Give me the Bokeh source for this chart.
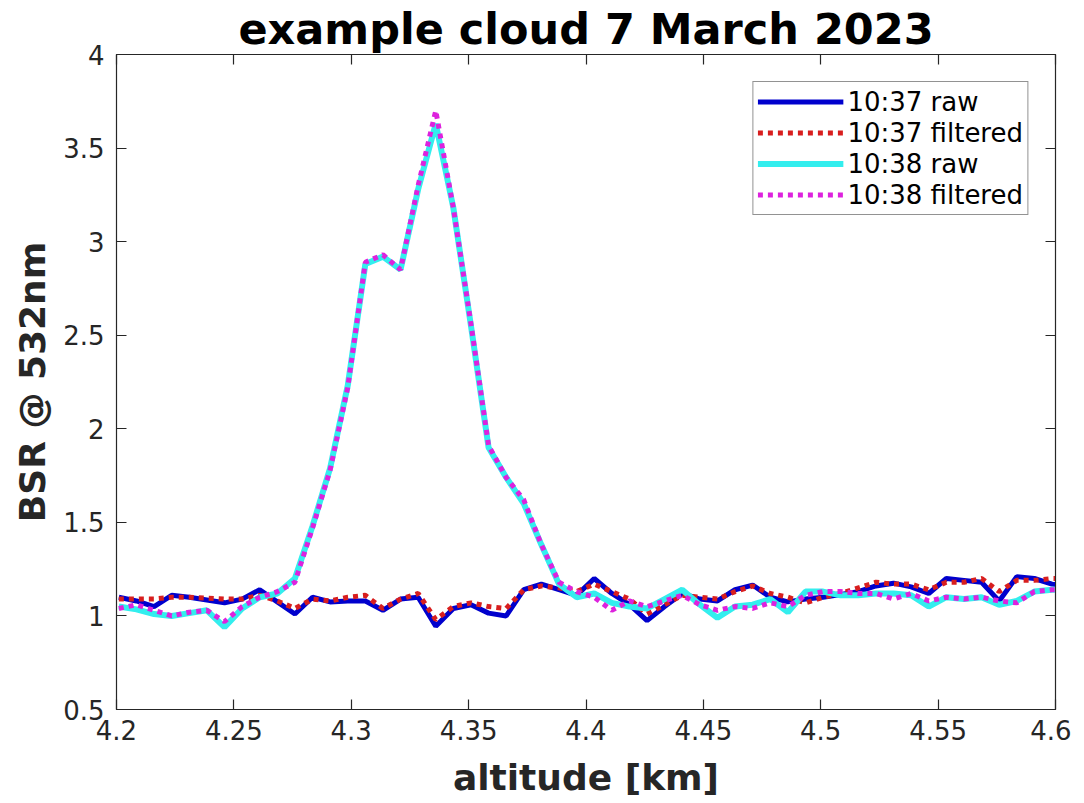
from bokeh.plotting import figure
from bokeh.models import Range1d, FixedTicker, LinearAxis, Legend, LegendItem
from bokeh.embed import file_html
from bokeh.resources import INLINE

# ---- data -------------------------------------------------------------
alt_start = 4.201
alt_step = 0.0075
n_points = 55
altitude = [round(alt_start + alt_step * i, 5) for i in range(n_points)]

raw_1037 = [1.10, 1.08, 1.05, 1.11, 1.10, 1.085, 1.07, 1.09, 1.14, 1.075,
            1.01, 1.10, 1.075, 1.08, 1.08, 1.03, 1.09, 1.10, 0.945, 1.04,
            1.06, 1.015, 1.00, 1.14, 1.17, 1.14, 1.11, 1.20, 1.12, 1.06,
            0.975, 1.05, 1.12, 1.09, 1.08, 1.14, 1.165, 1.10, 1.075, 1.09,
            1.10, 1.115, 1.13, 1.16, 1.175, 1.155, 1.12, 1.20, 1.19, 1.18,
            1.08, 1.21, 1.20, 1.17, 1.16]

filt_1037 = [1.09, 1.09, 1.09, 1.10, 1.10, 1.095, 1.09, 1.09, 1.11, 1.08,
             1.04, 1.09, 1.08, 1.10, 1.11, 1.04, 1.09, 1.12, 0.98, 1.05,
             1.07, 1.05, 1.04, 1.14, 1.16, 1.15, 1.13, 1.17, 1.13, 1.09,
             1.01, 1.06, 1.11, 1.10, 1.09, 1.13, 1.16, 1.12, 1.10, 1.07,
             1.10, 1.12, 1.15, 1.18, 1.17, 1.17, 1.14, 1.18, 1.18, 1.20,
             1.13, 1.19, 1.19, 1.20, 1.20]

raw_1038 = [1.05, 1.035, 1.01, 1.00, 1.015, 1.03, 0.94, 1.04, 1.10, 1.12,
            1.20, 1.48, 1.79, 2.23, 2.88, 2.92, 2.85, 3.28, 3.63, 3.18,
            2.55, 1.90, 1.74, 1.60, 1.38, 1.17, 1.10, 1.12, 1.07, 1.05,
            1.04, 1.09, 1.14, 1.06, 0.99, 1.05, 1.06, 1.09, 1.02, 1.13,
            1.13, 1.11, 1.11, 1.12, 1.12, 1.11, 1.05, 1.10, 1.09, 1.10,
            1.06, 1.08, 1.13, 1.14, 1.14]

filt_1038 = [1.04, 1.06, 1.03, 1.00, 1.02, 1.03, 0.97, 1.05, 1.10, 1.13,
             1.18, 1.47, 1.78, 2.22, 2.89, 2.93, 2.85, 3.30, 3.70, 3.18,
             2.56, 1.91, 1.74, 1.62, 1.38, 1.18, 1.13, 1.10, 1.03, 1.08,
             1.05, 1.08, 1.11, 1.06, 1.03, 1.05, 1.04, 1.07, 1.05, 1.11,
             1.13, 1.13, 1.12, 1.12, 1.09, 1.12, 1.08, 1.10, 1.09, 1.10,
             1.08, 1.07, 1.13, 1.14, 1.14]

series_labels = ["10:37 raw", "10:37 filtered", "10:38 raw", "10:38 filtered"]

x_ticks = [4.2, 4.25, 4.3, 4.35, 4.4, 4.45, 4.5, 4.55, 4.6]
x_tick_labels = ["4.2", "4.25", "4.3", "4.35", "4.4", "4.45", "4.5", "4.55", "4.6"]
y_ticks = [0.5, 1.0, 1.5, 2.0, 2.5, 3.0, 3.5, 4.0]
y_tick_labels = ["0.5", "1", "1.5", "2", "2.5", "3", "3.5", "4"]

title_text = "example cloud 7 March 2023"
x_label = "altitude [km]"
y_label = "BSR @ 532nm"

# ---- figure -----------------------------------------------------------
FONT = "DejaVu Sans"
TXT = "#262626"

p = figure(frame_width=939, frame_height=655,
           x_range=Range1d(4.2, 4.6), y_range=Range1d(0.5, 4.0),
           output_backend="svg", toolbar_location=None,
           min_border_left=116, min_border_top=49, min_border_right=16,
           min_border_bottom=10, background_fill_color="white",
           border_fill_color="white")

p.title.text = title_text
p.title.align = "center"
p.title.text_font = FONT
p.title.text_font_size = "43px"
p.title.text_font_style = "bold"
p.title.text_color = "black"
p.title.offset = 0
p.title.standoff = 2

p.grid.visible = False
p.outline_line_color = TXT
p.outline_line_width = 1.2

def style_axis(ax, show_labels=True):
    ax.major_tick_in = 10
    ax.major_tick_out = 0
    ax.minor_tick_line_color = None
    ax.axis_line_color = TXT
    ax.major_tick_line_color = TXT
    ax.major_tick_line_width = 1.2
    ax.major_label_text_font = FONT
    if show_labels:
        ax.major_label_text_font_size = "26px"
        ax.major_label_text_color = TXT
    else:
        ax.major_label_text_font_size = "1px"
        ax.major_label_text_color = None
        ax.major_label_standoff = 0

p.xaxis.ticker = FixedTicker(ticks=x_ticks)
p.yaxis.ticker = FixedTicker(ticks=y_ticks)
p.xaxis.major_label_overrides = dict(zip(x_ticks, x_tick_labels))
p.yaxis.major_label_overrides = dict(zip(y_ticks, y_tick_labels))
style_axis(p.xaxis[0])
style_axis(p.yaxis[0])
p.xaxis.major_label_standoff = 10
p.yaxis.major_label_standoff = 12

p.xaxis.axis_label = x_label
p.yaxis.axis_label = y_label
for ax in (p.xaxis[0], p.yaxis[0]):
    ax.axis_label_text_font = FONT
    ax.axis_label_text_font_size = "36px"
    ax.axis_label_text_font_style = "bold"
    ax.axis_label_text_color = TXT
p.xaxis.axis_label_standoff = 14
p.yaxis.axis_label_standoff = 7

top_ax = LinearAxis(ticker=FixedTicker(ticks=x_ticks))
style_axis(top_ax, show_labels=False)
right_ax = LinearAxis(ticker=FixedTicker(ticks=y_ticks))
style_axis(right_ax, show_labels=False)
p.add_layout(top_ax, "above")
p.add_layout(right_ax, "right")

# ---- lines ------------------------------------------------------------
r1 = p.line(altitude, raw_1037, line_color="#0000cd", line_width=5)
r2 = p.line(altitude, filt_1037, line_color="#d81e1e", line_width=5, line_dash="5 5")
r3 = p.line(altitude, raw_1038, line_color="#33eeee", line_width=6)
r4 = p.line(altitude, filt_1038, line_color="#dd22dd", line_width=5, line_dash="5 5")

legend = Legend(items=[LegendItem(label=lab, renderers=[r])
                       for lab, r in zip(series_labels, [r1, r2, r3, r4])],
                location="top_right")
legend.margin = 27
legend.padding = 4
legend.spacing = 0
legend.glyph_width = 86
legend.glyph_height = 31
legend.label_height = 31
legend.label_standoff = 4
legend.label_text_font = FONT
legend.label_text_font_size = "26px"
legend.label_text_color = "black"
legend.border_line_color = TXT
legend.border_line_width = 1
legend.background_fill_color = "white"
legend.background_fill_alpha = 1.0
p.add_layout(legend, "center")

open("out.html", "w").write(file_html(p, INLINE))
